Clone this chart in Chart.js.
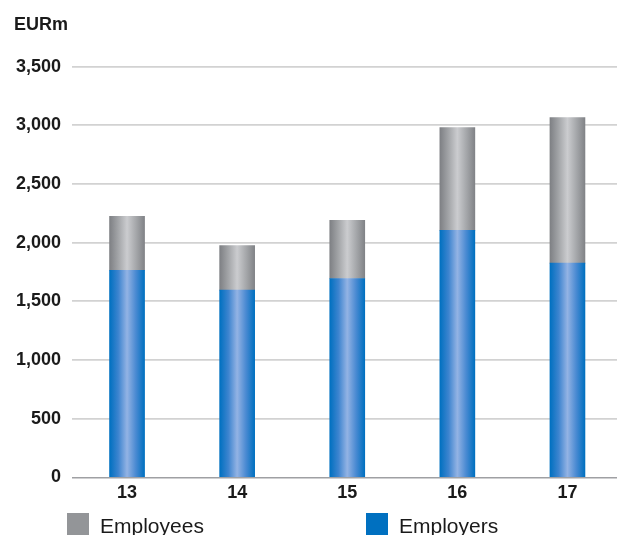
<!DOCTYPE html>
<html>
<head>
<meta charset="utf-8">
<script src="https://cdn.jsdelivr.net/npm/chart.js@4.4.1/dist/chart.umd.min.js"></script>
<style>
  html, body { margin: 0; padding: 0; background: #fff; }
  .wrap { position: relative; width: 617px; height: 535px; overflow: hidden; }
  .legend { position: absolute; left: 67px; top: 513px; display: flex; font-family: "Liberation Sans", Arial, sans-serif; font-size: 21px; color: #1a1a1a; }
  .legend .item { display: flex; align-items: flex-start; }
  .legend .item:first-child { width: 299px; }
  .legend .box { width: 22px; height: 22px; margin-right: 11px; }
  .legend .txt { line-height: 22px; margin-top: 2px; }
</style>
</head>
<body>
<div class="wrap">
  <canvas id="pensionChart" width="617" height="535"></canvas>
  <div class="legend" id="legend"></div>
</div>
<script>
// ============ DATA ============
const categories = ["13", "14", "15", "16", "17"];
const employers = [1765, 1595, 1695, 2105, 1825];
const employees = [460, 380, 495, 875, 1240];
const yTicks = [0, 500, 1000, 1500, 2000, 2500, 3000, 3500];

// ============ STYLE ============
const BAR_W = 35;
const FONT = "'Liberation Sans', Arial, sans-serif";
const blueStops = ["#0070c0", "#3d84cf", "#93b3e4", "#4a8ad2", "#0070c0"];
const grayStops = ["#7e8084", "#a3a5a8", "#cbcccf", "#a6a8ab", "#818387"];

// horizontal shading across each bar, like a cylinder
function barGradient(context, stops) {
    const chart = context.chart;
    if (!chart.chartArea || context.dataIndex === undefined) return stops[0];
    const cx = chart.scales.x.getPixelForValue(context.dataIndex);
    const g = chart.ctx.createLinearGradient(cx - BAR_W / 2, 0, cx + BAR_W / 2, 0);
    g.addColorStop(0, stops[0]);
    g.addColorStop(0.25, stops[1]);
    g.addColorStop(0.5, stops[2]);
    g.addColorStop(0.75, stops[3]);
    g.addColorStop(1, stops[4]);
    return g;
}

const toPoints = arr => arr.map((v, i) => ({ x: i, y: v }));

// ============ CHART ============
const ctx = document.getElementById("pensionChart").getContext("2d");

const pensionChart = new Chart(ctx, {
    type: "bar",
    data: {
        datasets: [
            {
                label: "Employers",
                data: toPoints(employers),
                backgroundColor: c => barGradient(c, blueStops),
                legendColor: "#0070c0",
                barThickness: BAR_W
            },
            {
                label: "Employees",
                data: toPoints(employees),
                backgroundColor: c => barGradient(c, grayStops),
                legendColor: "#939598",
                barThickness: BAR_W
            }
        ]
    },
    options: {
        responsive: false,
        animation: false,
        events: [],
        layout: { padding: { left: 14, right: 0, top: 0, bottom: 26 } },
        plugins: {
            legend: { display: false },
            tooltip: { enabled: false },
            title: {
                display: true,
                text: "EURm",
                align: "start",
                color: "#1a1a1a",
                font: { family: FONT, size: 18, weight: "bold" },
                padding: { top: 14, bottom: 31 }
            }
        },
        scales: {
            x: {
                type: "linear",
                stacked: true,
                offset: false,
                min: -0.5,
                max: 4.45,
                grid: { display: false, drawTicks: false, offset: false },
                border: { display: false },
                afterBuildTicks: scale => { scale.ticks = categories.map((c, i) => ({ value: i })); },
                ticks: {
                    autoSkip: false,
                    maxRotation: 0,
                    padding: 5,
                    color: "#1a1a1a",
                    font: { family: FONT, size: 18, weight: "bold" },
                    callback: v => categories[v]
                }
            },
            y: {
                stacked: true,
                min: yTicks[0],
                max: yTicks[yTicks.length - 1],
                afterFit: scale => { scale.width = 58; },
                afterBuildTicks: scale => { scale.ticks = yTicks.map(v => ({ value: v })); },
                grid: {
                    drawTicks: false,
                    color: c => c.tick && c.tick.value === 0 ? "#9fa0a3" : "#d2d2d2",
                    lineWidth: c => c.tick && c.tick.value === 0 ? 1.5 : 1.8
                },
                border: { display: false },
                ticks: {
                    padding: 11,
                    color: "#1a1a1a",
                    font: { family: FONT, size: 18, weight: "bold" },
                    callback: v => v.toLocaleString("en-US")
                }
            }
        }
    }
});

// ============ HTML LEGEND ============
const legendEl = document.getElementById("legend");
pensionChart.data.datasets.slice().reverse().forEach(ds => {
    legendEl.innerHTML += `
        <div class="item">
            <div class="box" style="background:${ds.legendColor}"></div>
            <div class="txt">${ds.label}</div>
        </div>`;
});
</script>
</body>
</html>
